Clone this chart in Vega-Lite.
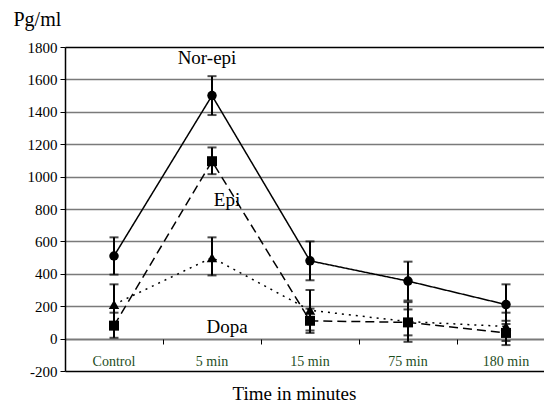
{
  "$schema": "https://vega.github.io/schema/vega-lite/v6.json",
  "autosize": "none",
  "padding": {"left": 65, "top": 47, "right": 0, "bottom": 40},
  "width": 490,
  "height": 324,
  "background": "white",
  "config": {"view": {"stroke": null}, "font": "Liberation Serif", "axis": {"labelFont": "Liberation Serif", "titleFont": "Liberation Serif"}},
  "datasets": {
    "series": [
      {"time": "Control", "series": "Nor-epi", "value": 510, "lo": 395, "hi": 625},
      {"time": "5 min", "series": "Nor-epi", "value": 1500, "lo": 1380, "hi": 1620},
      {"time": "15 min", "series": "Nor-epi", "value": 480, "lo": 360, "hi": 600},
      {"time": "75 min", "series": "Nor-epi", "value": 355, "lo": 235, "hi": 475},
      {"time": "180 min", "series": "Nor-epi", "value": 210, "lo": 90, "hi": 335},
      {"time": "Control", "series": "Epi", "value": 80, "lo": 5, "hi": 160},
      {"time": "5 min", "series": "Epi", "value": 1095, "lo": 1015, "hi": 1180},
      {"time": "15 min", "series": "Epi", "value": 110, "lo": 35, "hi": 185},
      {"time": "75 min", "series": "Epi", "value": 100, "lo": 20, "hi": 180},
      {"time": "180 min", "series": "Epi", "value": 35, "lo": -40, "hi": 110},
      {"time": "Control", "series": "Dopa", "value": 210, "lo": 85, "hi": 335},
      {"time": "5 min", "series": "Dopa", "value": 500, "lo": 390, "hi": 625},
      {"time": "15 min", "series": "Dopa", "value": 175, "lo": 50, "hi": 300},
      {"time": "75 min", "series": "Dopa", "value": 105, "lo": -20, "hi": 225},
      {"time": "180 min", "series": "Dopa", "value": 75, "lo": -15, "hi": 160}
    ],
    "labels": [
      {"label": "Nor-epi", "time": "5 min", "value": 1735},
      {"label": "Epi", "time": "5 min", "value": 858},
      {"label": "Dopa", "time": "5 min", "value": 74}
    ]
  },
  "encoding": {
    "x": {
      "field": "time", "type": "nominal",
      "sort": ["Control", "5 min", "15 min", "75 min", "180 min"],
      "scale": {"paddingInner": 0, "paddingOuter": 0},
      "axis": {
        "title": "Time in minutes", "titleFont": "Liberation Serif", "titleFontSize": 19, "titleFontWeight": "normal", "titleColor": "black",
        "titleX": 229, "titlePadding": 16,
        "labelAngle": 0, "labelFont": "Liberation Serif", "labelFontSize": 14, "labelFontWeight": "normal", "labelColor": "#1d4d1d",
        "labelPadding": 10, "offset": -32, "domain": false, "ticks": true, "tickColor": "black", "tickSize": 5, "tickWidth": 1, "bandPosition": 0
      }
    },
    "y": {
      "type": "quantitative",
      "scale": {"domain": [-200, 1800], "nice": false, "zero": false},
      "axis": {
        "title": "Pg/ml", "titleAngle": 0, "titleX": -52, "titleY": -28, "titleAlign": "left", "titleBaseline": "middle",
        "titleFont": "Liberation Serif", "titleFontSize": 20, "titleFontWeight": "normal", "titleColor": "black",
        "values": [-200, 0, 200, 400, 600, 800, 1000, 1200, 1400, 1600, 1800],
        "labelExpr": "'' + datum.value",
        "labelFont": "Liberation Serif", "labelFontSize": 15, "labelFontWeight": "normal", "labelColor": "black", "labelPadding": 3,
        "domain": true, "domainColor": "black", "domainWidth": 1.5,
        "ticks": true, "tickColor": "black", "tickSize": 5,
        "grid": true,
        "gridColor": {"condition": {"test": "datum.value === 1800 || datum.value === -200", "value": "black"}, "value": "#7a7a7a"},
        "gridWidth": {"condition": {"test": "datum.value === 0", "value": 2}, "value": 1.3},
        "gridOpacity": 1
      }
    }
  },
  "layer": [
    {
      "data": {"name": "series"},
      "mark": {"type": "line", "color": "black", "strokeWidth": 1.5},
      "encoding": {
        "y": {"field": "value"},
        "detail": {"field": "series"},
        "strokeDash": {"field": "series", "type": "nominal", "scale": {"domain": ["Nor-epi", "Epi", "Dopa"], "range": [[1, 0], [9, 5], [2, 5]]}, "legend": null}
      }
    },
    {
      "data": {"name": "series"},
      "mark": {"type": "rule", "color": "black", "strokeWidth": 2},
      "encoding": {"y": {"field": "lo"}, "y2": {"field": "hi"}}
    },
    {
      "data": {"name": "series"},
      "mark": {"type": "tick", "color": "black", "thickness": 2, "size": 9},
      "encoding": {"y": {"field": "lo"}}
    },
    {
      "data": {"name": "series"},
      "mark": {"type": "tick", "color": "black", "thickness": 2, "size": 9},
      "encoding": {"y": {"field": "hi"}}
    },
    {
      "data": {"name": "series"},
      "mark": {"type": "point", "filled": true, "color": "black", "opacity": 1},
      "encoding": {
        "y": {"field": "value"},
        "shape": {"field": "series", "type": "nominal", "scale": {"domain": ["Nor-epi", "Epi", "Dopa"], "range": ["circle", "square", "triangle-up"]}, "legend": null},
        "size": {"field": "series", "type": "nominal", "scale": {"domain": ["Nor-epi", "Epi", "Dopa"], "range": [90, 110, 90]}, "legend": null}
      }
    },
    {
      "data": {"name": "labels"},
      "transform": [{"filter": "datum.label === 'Nor-epi'"}],
      "mark": {"type": "text", "font": "Liberation Serif", "fontSize": 19, "color": "black", "dx": -5, "baseline": "middle"},
      "encoding": {"y": {"field": "value"}, "text": {"field": "label"}}
    },
    {
      "data": {"name": "labels"},
      "transform": [{"filter": "datum.label !== 'Nor-epi'"}],
      "mark": {"type": "text", "font": "Liberation Serif", "fontSize": 19, "color": "black", "dx": 15, "baseline": "middle"},
      "encoding": {"y": {"field": "value"}, "text": {"field": "label"}}
    }
  ]
}
